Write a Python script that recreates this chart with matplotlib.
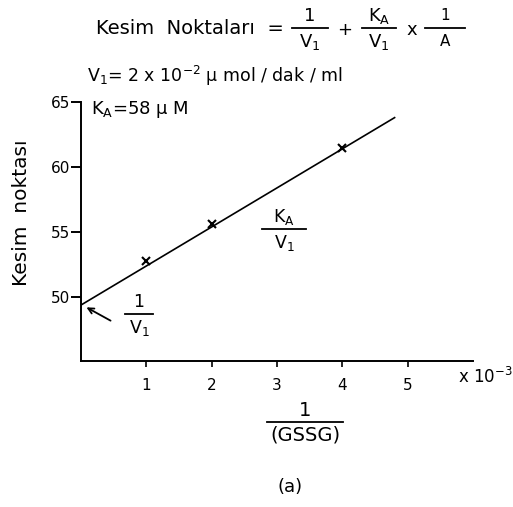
import matplotlib
matplotlib.use("Agg")
from matplotlib import pyplot as plt
from matplotlib.lines import Line2D

# data
inv_gssg = [1, 2, 4]              # 1/(GSSG) x 10^-3
kesim = [52.8, 55.6, 61.5]        # Kesim noktası
fit_x = [0, 4.8]
fit_y = [49.4, 63.8]
x_ticks = [1, 2, 3, 4, 5]
y_ticks = [50, 55, 60, 65]

plt.rcParams['mathtext.default'] = 'regular'
W, H = 513, 507

fig = plt.figure(figsize=(W / 100, H / 100), dpi=100)
ax = fig.add_axes([81 / W, 1 - 361 / H, 392 / W, 259 / H])

ax.plot(fit_x, fit_y, color='black', lw=1.2)
ax.plot(inv_gssg, kesim, 'x', color='black', ms=6, mew=1.5)

ax.set_xlim(0, 6.0)
ax.set_ylim(45.1, 65)
ax.set_xticks(x_ticks)
ax.set_yticks(y_ticks)
for s in ['top', 'right']:
    ax.spines[s].set_visible(False)
for s in ['left', 'bottom']:
    ax.spines[s].set_linewidth(1.4)
ax.tick_params(axis='y', direction='out', length=7, width=1.4, labelsize=11, pad=1)
ax.tick_params(axis='x', direction='out', length=4, width=1.2, labelsize=11, pad=8)


def txt(x, y, s, size=12, ha='center', **kw):
    fig.text(x / W, 1 - y / H, s, fontsize=size, ha=ha, va='center', **kw)


def bar(x0, x1, y, lw=1.3):
    fig.add_artist(Line2D([x0 / W, x1 / W], [1 - y / H, 1 - y / H],
                          color='black', lw=lw, transform=fig.transFigure))


def frac(cx, y, top, bottom, half, size=12, gap=12):
    txt(cx, y - gap, top, size)
    bar(cx - half, cx + half, y)
    txt(cx, y + gap + 2, bottom, size)


# formula on top
txt(284, 29, 'Kesim  Noktaları  =', 14, ha='right')
frac(310, 28, '1', 'V$_1$', 18, size=13)
txt(345, 30, '+', 13)
frac(379, 28, 'K$_A$', 'V$_1$', 17, size=13)
txt(412, 30, 'x', 13)
frac(445, 28, '1', 'A', 20, size=11)

txt(87, 76, 'V$_1$= 2 x 10$^{-2}$ μ mol / dak / ml', 12.5, ha='left')
txt(91, 110, 'K$_A$=58 μ M', 13, ha='left')

# y label
txt(22, 213, 'Kesim  noktası', 14.5, rotation=90)

# labels inside plot
frac(284, 229, 'K$_A$', 'V$_1$', 22, size=12.5)
frac(139, 314, '1', 'V$_1$', 14, size=12.5)
ax.annotate('', xy=(84, H - 306), xytext=(113, H - 322),
            xycoords='figure pixels', textcoords='figure pixels',
            arrowprops=dict(arrowstyle='->', lw=1.3, color='black'))

txt(458, 377, 'x 10$^{-3}$', 12, ha='left')

# x label
frac(305, 422, '1', '(GSSG)', 38, size=14, gap=11)
txt(290, 487, '(a)', 13)

plt.savefig('out.png', dpi=100)
